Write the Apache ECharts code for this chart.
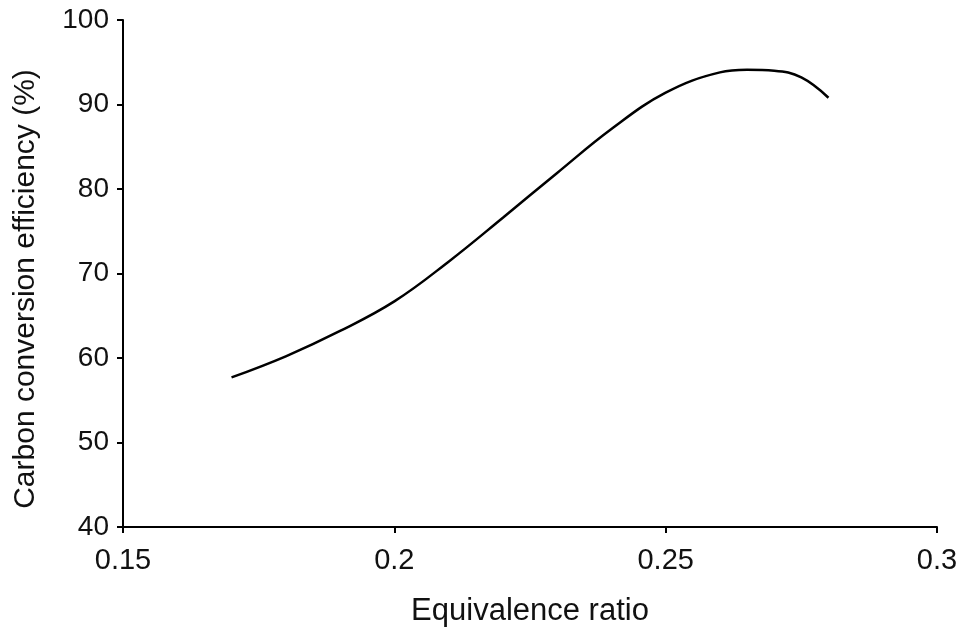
<!DOCTYPE html>
<html>
<head>
<meta charset="utf-8">
<script src="https://cdn.jsdelivr.net/npm/echarts@6/dist/echarts.min.js"></script>
<style>
  html, body { margin: 0; padding: 0; background: #fff; }
  #chart { width: 963px; height: 637px; }
</style>
</head>
<body>
<div id="chart"></div>
<script>
// equivalence ratio (x) and carbon conversion efficiency in % (y)
var ratio = [0.17, 0.18, 0.19, 0.20, 0.21, 0.22, 0.23, 0.24, 0.25, 0.26, 0.265, 0.27, 0.275, 0.28];
var efficiency = [57.7, 60.2, 63.2, 66.7, 71.4, 76.6, 81.9, 87.1, 91.4, 93.8, 94.1, 94.0, 93.2, 90.8];

var xTicks = [0.15, 0.2, 0.25, 0.3];
var yTicks = [40, 50, 60, 70, 80, 90, 100];

var points = ratio.map(function (r, i) { return [r, efficiency[i]]; });

var chart = echarts.init(document.getElementById('chart'));
var font = 'Liberation Sans, Arial, sans-serif';

chart.setOption({
  animation: false,
  grid: { left: 123, right: 26, top: 20, bottom: 110 },
  xAxis: {
    type: 'value',
    min: xTicks[0],
    max: xTicks[xTicks.length - 1],
    interval: 0.05,
    name: 'Equivalence ratio',
    nameLocation: 'middle',
    nameGap: 69,
    nameTextStyle: { color: '#111', fontSize: 31, fontFamily: font },
    axisLine: { lineStyle: { color: '#000', width: 2 } },
    axisTick: { show: true, inside: false, length: 6, lineStyle: { color: '#000', width: 2 } },
    axisLabel: {
      color: '#111', fontSize: 29, fontFamily: font, margin: 19,
      formatter: function (v) { return String(+v.toFixed(2)); }
    },
    splitLine: { show: false }
  },
  yAxis: {
    type: 'value',
    min: yTicks[0],
    max: yTicks[yTicks.length - 1],
    interval: 10,
    name: 'Carbon conversion efficiency (%)',
    nameLocation: 'middle',
    nameGap: 82,
    nameTextStyle: { color: '#111', fontSize: 30, fontFamily: font, padding: [0, 31, 0, 0] },
    axisLine: { show: true, lineStyle: { color: '#000', width: 2 } },
    axisTick: { show: true, inside: false, length: 6, lineStyle: { color: '#000', width: 2 } },
    axisLabel: { color: '#111', fontSize: 28, fontFamily: font, margin: 14 },
    splitLine: { show: false }
  },
  series: [{
    type: 'line',
    data: points,
    smooth: 0.4,
    showSymbol: false,
    lineStyle: { color: '#000', width: 2.5 }
  }]
});
</script>
</body>
</html>
